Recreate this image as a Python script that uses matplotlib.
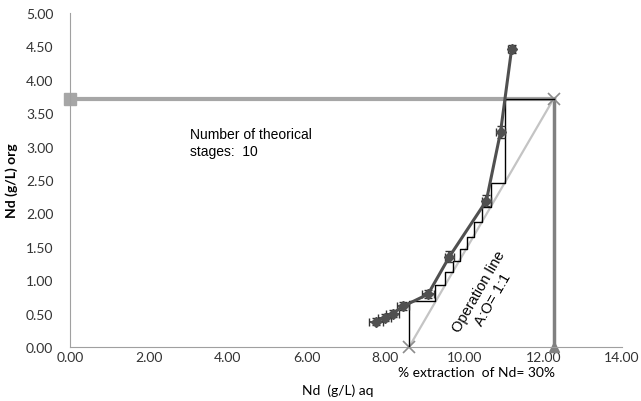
import matplotlib.pyplot as plt

# equilibrium points (Nd aq, Nd org) with error bars
eq_x = [7.76, 7.98, 8.18, 8.45, 9.08, 9.62, 10.56, 10.92, 11.20]
eq_y = [0.38, 0.44, 0.50, 0.61, 0.79, 1.35, 2.19, 3.22, 4.46]
eq_xerr = [0.17, 0.17, 0.17, 0.15, 0.15, 0.12, 0.12, 0.12, 0.08]
eq_yerr = [0.05, 0.05, 0.05, 0.06, 0.06, 0.08, 0.08, 0.09, 0.06]

# operation line A:O = 1:1
op_x = [8.60, 12.27]
op_y = [0.00, 3.72]

# feed lines
feed_h_x = [0.00, 12.27]
feed_h_y = [3.72, 3.72]
feed_v_x = [12.27, 12.27]
feed_v_y = [3.72, 0.00]

# McCabe-Thiele stairs (10 stages)
stair_x = [12.27, 11.04, 11.04, 10.68, 10.68, 10.45, 10.45, 10.24, 10.24, 10.06,
           10.06, 9.88, 9.88, 9.71, 9.71, 9.52, 9.52, 9.25, 9.25, 8.60, 8.60]
stair_y = [3.72, 3.72, 2.46, 2.46, 2.10, 2.10, 1.87, 1.87, 1.65, 1.65,
           1.47, 1.47, 1.29, 1.29, 1.12, 1.12, 0.93, 0.93, 0.69, 0.69, 0.00]

x_ticks = [0, 2, 4, 6, 8, 10, 12, 14]
y_ticks = [0, 0.5, 1, 1.5, 2, 2.5, 3, 3.5, 4, 4.5, 5]

plt.rcParams['font.family'] = ['Lato', 'DejaVu Sans']

fig = plt.figure(figsize=(6.41, 4.02), dpi=100)
ax = fig.add_axes([70/641, 54/402, 552/641, 334/402])

ax.plot(feed_h_x, feed_h_y, color='#a6a6a6', lw=3, marker='s', ms=8,
        markevery=[0], zorder=2, clip_on=False)
ax.plot(feed_v_x, feed_v_y, color='#808080', lw=2.5, marker='^', ms=7,
        markevery=[1], zorder=2, clip_on=False)
ax.plot(op_x, op_y, color='#c4c4c4', lw=1.6, marker='x', ms=9, mew=1.2,
        mec='#8c8c8c', zorder=3, clip_on=False)
ax.plot(stair_x, stair_y, color='black', lw=1, zorder=4)
ax.errorbar(eq_x, eq_y, xerr=eq_xerr, yerr=eq_yerr, color='#505050', lw=2.2,
            marker='D', ms=5, ecolor='#333333', elinewidth=1.2, capsize=3,
            zorder=5)

ax.set_xlim(0, 14)
ax.set_ylim(0, 5)
ax.set_xticks(x_ticks)
ax.set_yticks(y_ticks)
ax.set_xticklabels(['%.2f' % v for v in x_ticks])
ax.set_yticklabels(['%.2f' % v for v in y_ticks])
ax.tick_params(length=0, labelsize=10, colors='#333333')
ax.tick_params(axis='y', pad=12)
ax.tick_params(axis='x', pad=3)
for s in ['top', 'right']:
    ax.spines[s].set_visible(False)
for s in ['left', 'bottom']:
    ax.spines[s].set_color('#a0a0a0')

ax.set_ylabel('Nd (g/L) org', fontsize=10, fontweight='bold')
ax.yaxis.set_label_coords(-52/552, 0.5)

ax.text(3.05, 3.30, 'Number of theorical\nstages:  10', fontsize=10,
        family='Liberation Sans', va='top', ha='left', linespacing=1.3)
ax.text(10.55, 0.78, 'Operation line\nA:O= 1:1', fontsize=10.5,
        family='Liberation Sans', rotation=60, ha='center', va='center',
        rotation_mode='anchor', linespacing=1.2)

fig.text(338/641, 1 - 391/402, 'Nd  (g/L) aq', ha='center', va='center',
         fontsize=10)
fig.text(476/641, 1 - 373/402, '% extraction  of Nd= 30%', ha='center',
         va='center', fontsize=10)

fig.savefig('out.png', dpi=100)
